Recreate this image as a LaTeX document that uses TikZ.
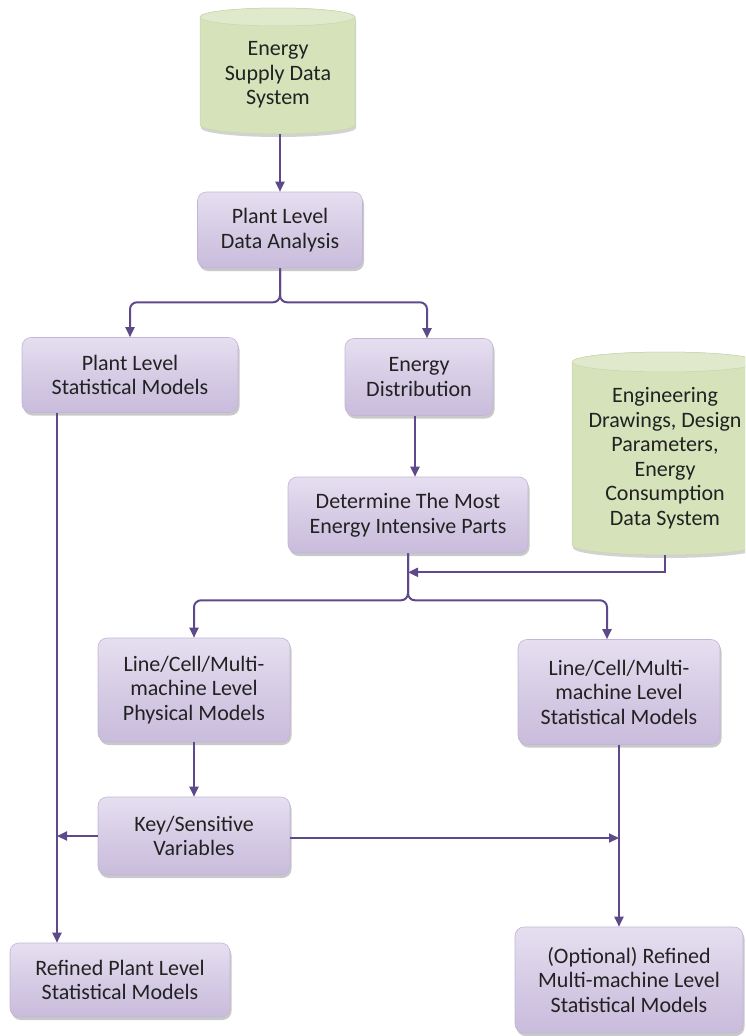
\documentclass[tikz,border=0pt]{standalone}
\usepackage{fontspec}
\setmainfont{Carlito}
\usetikzlibrary{arrows.meta,shadows,calc}

\definecolor{flowline}{HTML}{5E4A8A}
\definecolor{boxtop}{HTML}{E6DFF0}
\definecolor{boxmid}{HTML}{D6CCE5}
\definecolor{boxbot}{HTML}{C9BCDC}
\definecolor{boxedge}{HTML}{C2B5D7}
\definecolor{cylbody}{HTML}{D5E2BA}
\definecolor{cyltop}{HTML}{E0E9CB}
\definecolor{cyledge}{HTML}{C8D6AC}
\definecolor{txt}{HTML}{222222}

\tikzset{
  labelfont/.style={font=\fontsize{22}{24.5}\selectfont},
  box/.style={rectangle, rounded corners=9pt, top color=boxtop, bottom color=boxbot,
    middle color=boxmid, draw=boxedge, line width=0.6pt, text=txt, align=center,
    labelfont, inner sep=0pt,
    drop shadow={shadow xshift=1.5pt, shadow yshift=-3pt, opacity=0.3, fill=black!70}},
  cyltext/.style={text=txt, align=center, labelfont, inner sep=0pt},
  cylbody/.style={fill=cylbody, draw=cyledge, line width=0.5pt,
    drop shadow={shadow xshift=1pt, shadow yshift=-3pt, opacity=0.25, fill=black!70}},
  cyllid/.style={fill=cyltop, draw=cyledge, line width=0.5pt},
  link/.style={draw=flowline, line width=2pt},
  flow/.style={link, -{Triangle[length=10pt,width=9pt]}},
}

\begin{document}
\begin{tikzpicture}[x=1pt,y=-1pt]
  \clip (0,0) rectangle (745,1036);

  % data store: energy supply
  \path[cylbody] (200,17) -- (200,125) arc (180:360:77.5pt and 9pt)
    -- (355,17) arc (0:180:77.5pt and 9pt) -- cycle;
  \path[cyllid] (277.5,17) ellipse (77.5pt and 9pt);
  \node[cyltext] (esds) at (278,75) {Energy\\Supply Data\\System};
  \coordinate (esdsbase) at (280,134);

  % data store: engineering data
  \path[cylbody] (572,362) -- (572,545) arc (180:360:93pt and 10pt)
    -- (758,362) arc (0:180:93pt and 10pt) -- cycle;
  \path[cyllid] (665,362) ellipse (93pt and 10pt);
  \node[cyltext] (engds) at (665,458)
    {Engineering\\Drawings, Design\\Parameters,\\Energy\\Consumption\\Data System};
  \coordinate (engbase) at (665,555);

  % process boxes
  \node[box, minimum width=165pt, minimum height=76pt] (pda) at (280,230)
    {Plant Level\\Data Analysis};
  \node[box, minimum width=216pt, minimum height=75pt] (pls) at (130,375)
    {Plant Level\\Statistical Models};
  \node[box, minimum width=148pt, minimum height=77pt] (ed) at (419,377)
    {Energy\\Distribution};
  \node[box, minimum width=240pt, minimum height=76pt] (det) at (408,515)
    {Determine The Most\\Energy Intensive Parts};
  \node[box, minimum width=192pt, minimum height=104pt] (phys) at (194,690)
    {Line/Cell/Multi-\\machine Level\\Physical Models};
  \node[box, minimum width=202pt, minimum height=105pt] (lstat) at (619,692)
    {Line/Cell/Multi-\\machine Level\\Statistical Models};
  \node[box, minimum width=192pt, minimum height=78pt] (key) at (194,836)
    {Key/Sensitive\\Variables};
  \node[box, minimum width=220pt, minimum height=74pt] (rpl) at (120,980)
    {Refined Plant Level\\Statistical Models};
  \node[box, minimum width=228pt, minimum height=106pt] (opt) at (629,980)
    {(Optional) Refined\\Multi-machine Level\\Statistical Models};

  \coordinate (lx) at (57,0);

  % connectors
  \draw[flow] (esdsbase) -- (esdsbase |- pda.north);
  \draw[flow, rounded corners=7pt] (pda.south) -- ++(0,34) -| (pls.north);
  \draw[flow, rounded corners=7pt] (pda.south) -- ++(0,34) -| ([xshift=8pt]ed.north);
  \draw[flow] ([xshift=-4pt]ed.south) -- ([xshift=-4pt]ed.south |- det.north);
  \draw[flow, rounded corners=7pt] (det.south) -- ++(0,47) -| (phys.north);
  \draw[flow, rounded corners=7pt] (det.south) -- ++(0,47) -| ([xshift=-12pt]lstat.north);
  \draw[flow] (engbase) |- ([yshift=-19pt]det.south);
  \draw[flow] (phys.south) -- (key.north);
  \draw[flow] (key.west) -- (key.west -| lx);
  \draw[flow] ([yshift=-2pt]key.east) -- ([yshift=-2pt]key.east -| lstat.south);
  \draw[flow] (pls.south -| lx) -- (rpl.north -| lx);
  \draw[flow] (lstat.south) -- (lstat.south |- opt.north);
\end{tikzpicture}
\end{document}
